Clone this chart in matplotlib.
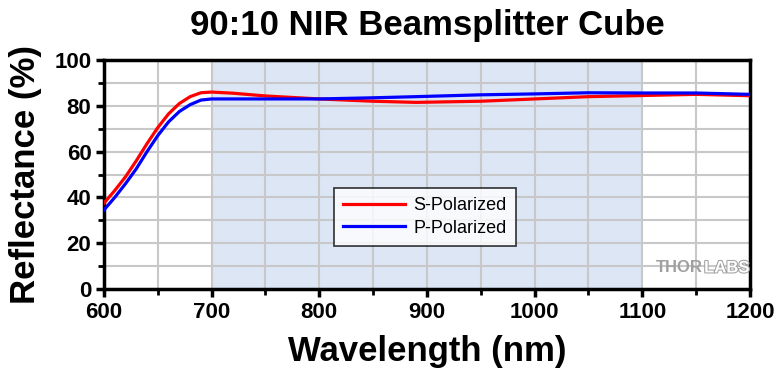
import matplotlib
matplotlib.use("Agg")
import matplotlib.pyplot as plt
import matplotlib.patheffects as pe
from matplotlib.ticker import MultipleLocator

plt.rcParams['font.family'] = ['Liberation Sans', 'DejaVu Sans']

# values
wl = [600, 610, 620, 630, 640, 650, 660, 670, 680, 690, 700, 720, 750, 800,
      850, 890, 950, 1000, 1050, 1100, 1150, 1200]
s_pol = [37.5, 43, 49, 56, 63.5, 70.5, 76.5, 81, 84, 85.7, 86, 85.5, 84.3, 83,
         82, 81.5, 82, 83, 84, 84.5, 85, 84.4]
p_pol = [34.5, 40, 46, 52.5, 60, 67, 73, 77.5, 80.5, 82.5, 83, 83, 83, 83,
         83.5, 84, 84.8, 85.2, 85.7, 85.6, 85.6, 85]
band = (700, 1100)

fig = plt.figure(figsize=(7.8, 3.7), dpi=100)
ax = fig.add_axes([0.1333, 0.2189, 0.8282, 0.6189])

ax.axvspan(band[0], band[1], color='#dce6f5', zorder=0, lw=0)
ax.plot(wl, s_pol, color='#ff0000', lw=2.3, label='S-Polarized', zorder=3)
ax.plot(wl, p_pol, color='#0000ff', lw=2.3, label='P-Polarized', zorder=3)

ax.set_xlim(600, 1200)
ax.set_ylim(0, 100)
ax.xaxis.set_major_locator(MultipleLocator(100))
ax.xaxis.set_minor_locator(MultipleLocator(50))
ax.yaxis.set_major_locator(MultipleLocator(20))
ax.yaxis.set_minor_locator(MultipleLocator(10))
ax.grid(True, which='both', color='#c8c8c8', lw=1.5, zorder=1)
ax.set_axisbelow(True)

for sp in ax.spines.values():
    sp.set_linewidth(2.5)
ax.tick_params(which='major', direction='out', length=6, width=2.5,
               labelsize=16, pad=3)
ax.tick_params(which='minor', direction='out', length=4, width=2)
for lab in ax.get_xticklabels() + ax.get_yticklabels():
    lab.set_fontweight('bold')

ax.set_xlabel('Wavelength (nm)', fontsize=25, fontweight='bold', labelpad=9)
ax.set_ylabel('Reflectance (%)', fontsize=25, fontweight='bold', labelpad=9)
ax.set_title('90:10 NIR Beamsplitter Cube', fontsize=25, fontweight='bold', pad=18)

leg = ax.legend(loc='center', bbox_to_anchor=(0.497, 0.314), fontsize=13,
                frameon=True, fancybox=False, edgecolor='black',
                handlelength=3.4, handletextpad=0.5, borderpad=0.5,
                labelspacing=0.3)
leg.get_frame().set_linewidth(1.2)

ax.text(0.927, 0.092, 'THOR', transform=ax.transAxes, fontsize=12,
        fontweight='bold', color='#a0a0a0', ha='right', va='center', zorder=4)
ax.text(0.929, 0.092, 'LABS', transform=ax.transAxes, fontsize=12,
        fontweight='bold', color='white', ha='left', va='center', zorder=4,
        path_effects=[pe.withStroke(linewidth=1.5, foreground='#a0a0a0')])

fig.savefig('out.png', dpi=100)
